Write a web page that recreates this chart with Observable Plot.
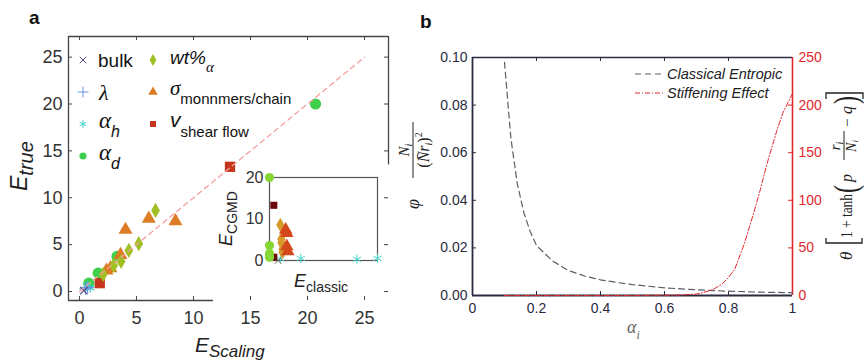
<!DOCTYPE html>
<html><head><meta charset="utf-8">
<script src="https://cdn.jsdelivr.net/npm/d3@7"></script>
<script src="https://cdn.jsdelivr.net/npm/@observablehq/plot@0.6"></script>
<style>
body{margin:0;background:#fff;}
#fig{position:relative;width:864px;height:363px;overflow:hidden;background:#fff;}
#fig > svg{position:absolute;}
</style></head><body><div id="fig"></div>
<script>
// ================= DATA =================
// Panel a: E_true vs E_Scaling
const bulkX=[0.38], bulkY=[0.10];
const lambdaX=[0.53,0.72], lambdaY=[0.29,0.45];
const alphaHX=[0.65,0.95], alphaHY=[0.55,0.40];
const alphaDX=[0.82,1.64,3.3,20.7], alphaDY=[0.89,1.96,3.74,20.0];
const wtX=[2.08,3.0,3.65,4.33,5.2,6.67], wtY=[1.82,2.78,3.2,4.38,5.1,8.65];
const sigmaX=[2.37,2.72,3.6,4.04,6.08,8.42], sigmaY=[2.24,2.49,3.9,6.59,7.77,7.51];
const shearX=[1.78,13.2], shearY=[0.89,13.3];
const refLine=[0,25];
const ticksA=[0,5,10,15,20,25];
// Inset: E_CGMD vs E_classic
const inCircX=[0,0,0,0], inCircY=[20,3.6,1.7,0.8];
const inSqX=[4,4], inSqY=[13.3,0.8];
const inDiaX=[10,11,11,12,12], inDiaY=[8.6,5.2,4.3,2.8,2.0];
const inTriX=[15,16,16,17], inTriY=[7.4,6.6,3.4,2.2];
const inAstX=[10,29,81,100], inAstY=[0.4,0.5,0.3,0.5];
const inTimesX=[8], inTimesY=[0];
const ticksInset=[0,10,20];
// Panel b
const alphaE=[0.1,0.12,0.14,0.16,0.18,0.2,0.25,0.3,0.35,0.4,0.45,0.5,0.6,0.7,0.8,0.9,1.0];
const entropic=[0.098,0.066,0.047,0.035,0.027,0.021,0.0145,0.0105,0.0082,0.0066,0.0055,0.0046,0.0032,0.0024,0.0018,0.0014,0.0012];
const alphaS=[0.1,0.2,0.3,0.4,0.5,0.6,0.65,0.7,0.72,0.75,0.78,0.8,0.82,0.85,0.88,0.9,0.92,0.95,0.97,1.0];
const stiffening=[0,0,0,0,0,0.2,0.5,1.5,3,6,12,19,28,55,88,112,138,172,192,212];
const ticksBx=[0,0.2,0.4,0.6,0.8,1];
const ticksBy=[0,0.02,0.04,0.06,0.08,0.1];
const ticksBr=[0,50,100,150,200,250];

// ================= HELPERS =================
const W=864,H=363;
const FONT='"Liberation Sans", Arial, Helvetica, sans-serif';
const SERIF='"Liberation Serif", "DejaVu Serif", serif';
const pts=(xs,ys)=>xs.map((x,i)=>({x,y:ys[i]}));
const fig=document.getElementById("fig");
function place(svg,left,top){svg.style.left=left+"px";svg.style.top=top+"px";fig.appendChild(svg);}

const C={bulk:"#4a4a85",lambda:"#6a95e6",alphaH:"#3fd0c4",alphaD:"#3ecf4c",wt:"#9fbf22",sigma:"#dc7d26",shear:"#c4351b"};

// ================= PANEL A =================
const xa=[-0.96,27.1], ya=[-0.96,27.2];
const A={w:432,l:68,r:44,t:36,b:63};
const ax=(A.w-A.l-A.r)/(xa[1]-xa[0]);
const ay=(H-A.t-A.b)/(ya[1]-ya[0]);
const TL=4, frameA="#444";
const plotA=Plot.plot({
  width:A.w,height:H,marginLeft:A.l,marginRight:A.r,marginTop:A.t,marginBottom:A.b,
  x:{domain:xa},y:{domain:ya},
  style:{background:"none",overflow:"visible",fontFamily:FONT,color:"#333"},
  marks:[
    Plot.axisX(ticksA,{tickSize:0,tickPadding:11,fontSize:18,label:null}),
    Plot.axisY(ticksA,{tickSize:0,tickPadding:6,fontSize:18,label:null}),
    Plot.ruleX(ticksA,{x:d=>d,y1:ya[0],y2:ya[0]+TL/ay,stroke:frameA}),
    Plot.ruleX(ticksA,{x:d=>d,y1:ya[1]-TL/ay,y2:ya[1],stroke:frameA}),
    Plot.ruleY(ticksA,{y:d=>d,x1:xa[0],x2:xa[0]+TL/ax,stroke:frameA}),
    Plot.ruleY(ticksA,{y:d=>d,x1:xa[1]-TL/ax,x2:xa[1],stroke:frameA}),
    Plot.ruleY([ya[1]],{x1:xa[0],x2:xa[1],stroke:frameA,strokeWidth:1.3}),
    Plot.ruleX([xa[0]],{y1:ya[0],y2:ya[1],stroke:frameA,strokeWidth:1.3}),
    Plot.ruleY([ya[0]],{x1:xa[0],x2:11.75,stroke:frameA,strokeWidth:1.3}),
    Plot.ruleX([xa[1]],{y1:13.5,y2:ya[1],stroke:frameA,strokeWidth:1.3}),
    Plot.dot(pts(alphaDX,alphaDY),{x:"x",y:"y",symbol:"circle",r:5.6,fill:C.alphaD}),
    Plot.dot(pts(shearX,shearY),{x:"x",y:"y",symbol:"square",r:5.8,fill:C.shear}),
    Plot.dot(pts(sigmaX,sigmaY),{x:"x",y:"y",symbol:"triangle",r:5.2,fill:C.sigma}),
    Plot.dot(pts(wtX,wtY),{x:"x",y:"y",symbol:"diamond",r:4.6,fill:C.wt}),
    Plot.dot(pts(alphaHX,alphaHY),{x:"x",y:"y",symbol:"asterisk",r:4.5,stroke:C.alphaH,strokeWidth:1.2}),
    Plot.dot(pts(lambdaX,lambdaY),{x:"x",y:"y",symbol:"plus",r:4,stroke:C.lambda,strokeWidth:1.2}),
    Plot.dot(pts(bulkX,bulkY),{x:"x",y:"y",symbol:"times",r:3.5,stroke:C.bulk,strokeWidth:1.2}),
    Plot.line(pts(refLine,refLine),{x:"x",y:"y",stroke:"#f4a0a0",strokeWidth:1.3,strokeDasharray:"5,4"})
  ]
});
place(plotA,0,0);

// ================= INSET =================
const I={w:190,h:140,l:69,r:13,t:17,b:40};
const plotI=Plot.plot({
  width:I.w,height:I.h,marginLeft:I.l,marginRight:I.r,marginTop:I.t,marginBottom:I.b,
  x:{domain:[0,100],axis:null},y:{domain:[0,20]},
  style:{background:"none",overflow:"visible",fontFamily:FONT,color:"#333"},
  marks:[
    Plot.frame({stroke:"#555",strokeWidth:1.2}),
    Plot.axisY(ticksInset,{tickSize:0,tickPadding:6,fontSize:16,label:null}),
    Plot.dot(pts(inAstX,inAstY),{x:"x",y:"y",symbol:"asterisk",r:4.5,stroke:"#48d6cc",strokeWidth:1}),
    Plot.dot(pts(inTimesX,inTimesY),{x:"x",y:"y",symbol:"times",r:3,stroke:"#666",strokeWidth:1}),
    Plot.dot(pts(inDiaX,inDiaY),{x:"x",y:"y",symbol:"diamond",r:4.3,fill:"#d69a2a"}),
    Plot.dot(pts(inTriX,inTriY),{x:"x",y:"y",symbol:"triangle",r:5,fill:"#d4481b"}),
    Plot.dot(pts(inSqX,inSqY),{x:"x",y:"y",symbol:"square",r:4,fill:"#6b0a0a"}),
    Plot.dot(pts(inCircX,inCircY),{x:"x",y:"y",symbol:"circle",r:4.6,fill:"#86d634"})
  ]
});
place(plotI,200,160);

// ================= PANEL B =================
const B={w:474,l:82,r:72,t:57,b:68};
const kR=0.1/250;
const bx=(B.w-B.l-B.r), by=(H-B.t-B.b)/0.1;
const navy="#2b2b40", red="#e0272c";
const plotB=Plot.plot({
  width:B.w,height:H,marginLeft:B.l,marginRight:B.r,marginTop:B.t,marginBottom:B.b,
  x:{domain:[0,1]},y:{domain:[0,0.1]},
  style:{background:"none",overflow:"visible",fontFamily:FONT},
  marks:[
    Plot.axisX(ticksBx,{tickSize:0,tickPadding:8,fontSize:14,color:navy,tickFormat:d3.format("~g"),label:null}),
    Plot.axisY(ticksBy,{tickSize:0,tickPadding:5,fontSize:14,color:navy,tickFormat:d3.format(".2f"),label:null}),
    Plot.axisY(ticksBr.map(v=>v*kR),{anchor:"right",tickSize:0,tickPadding:6,fontSize:14,color:red,tickFormat:d=>String(Math.round(d/kR)),label:null}),
    Plot.ruleX(ticksBx,{x:d=>d,y1:0,y2:TL/by,stroke:navy}),
    Plot.ruleX(ticksBx,{x:d=>d,y1:0.1-TL/by,y2:0.1,stroke:navy}),
    Plot.ruleY(ticksBy,{y:d=>d,x1:0,x2:TL/bx,stroke:navy}),
    Plot.ruleY(ticksBr.map(v=>v*kR),{y:d=>d,x1:1-TL/bx,x2:1,stroke:red}),
    Plot.ruleY([0.1],{x1:0,x2:1,stroke:navy,strokeWidth:1.6}),
    Plot.ruleY([0],{x1:0,x2:1,stroke:navy,strokeWidth:1.8}),
    Plot.ruleX([0],{y1:0,y2:0.1,stroke:navy,strokeWidth:1.8}),
    Plot.ruleX([1],{y1:0,y2:0.1,stroke:red,strokeWidth:1.6}),
    Plot.line(pts(alphaE,entropic),{x:"x",y:"y",stroke:"#5c5c68",strokeWidth:1.2,strokeDasharray:"6,4"}),
    Plot.line(pts(alphaS,stiffening.map(v=>v*kR)),{x:"x",y:"y",stroke:red,strokeWidth:1,strokeDasharray:"5,2,1,2"})
  ]
});
place(plotB,390,0);

// ================= OVERLAY TEXT / LEGENDS =================
const ov=d3.select(fig).append("svg").attr("width",W).attr("height",H)
  .style("position","absolute").style("left","0px").style("top","0px");
function txt(g,x,y,parts,attrs={}){
  const t=g.append("text").attr("x",x).attr("y",y);
  for(const [k,v] of Object.entries(attrs)) t.attr(k,v);
  for(const p of parts){
    const s=t.append("tspan").text(p.t);
    if(p.size) s.attr("font-size",p.size);
    if(p.family) s.attr("font-family",p.family);
    if(p.style) s.attr("font-style",p.style);
    if(p.weight) s.attr("font-weight",p.weight);
    if(p.dy!=null) s.attr("dy",p.dy);
    if(p.dx!=null) s.attr("dx",p.dx);
  }
  return t;
}
// Panel letters
txt(ov,29,24,[{t:"a",size:19,weight:"bold"}],{"font-family":FONT,fill:"#111"});
txt(ov,420,28,[{t:"b",size:19,weight:"bold"}],{"font-family":FONT,fill:"#111"});

// Panel a axis labels
txt(ov.append("g").attr("transform","translate(27,191) rotate(-90)"),0,0,
  [{t:"E",size:23,style:"italic"},{t:"true",size:20,style:"italic",dy:6}],{"font-family":FONT,fill:"#222"});
txt(ov,195,352,[{t:"E",size:21,style:"italic"},{t:"Scaling",size:17,style:"italic",dy:5}],{"font-family":FONT,fill:"#222"});
// Inset labels
txt(ov.append("g").attr("transform","translate(232,246) rotate(-90)"),0,0,
  [{t:"E",size:18,style:"italic"},{t:"CGMD",size:14,dy:5}],{"font-family":FONT,fill:"#222"});
txt(ov,294,287,[{t:"E",size:18,style:"italic"},{t:"classic",size:14,dy:5}],{"font-family":FONT,fill:"#222"});

// Panel a legend
const legA=[
  {x:83,y:60,type:d3.symbolTimes,size:28,stroke:C.bulk},
  {x:83,y:92,type:d3.symbolPlus,size:40,stroke:C.lambda},
  {x:83,y:124,type:d3.symbolAsterisk,size:40,stroke:C.alphaH},
  {x:83,y:156,type:d3.symbolCircle,size:40,fill:C.alphaD},
  {x:153,y:60,type:d3.symbolDiamond,size:40,fill:C.wt},
  {x:153,y:92,type:d3.symbolTriangle,size:40,fill:C.sigma},
  {x:153,y:124,type:d3.symbolSquare,size:36,fill:C.shear}
];
for(const m of legA){
  ov.append("path").attr("d",d3.symbol().type(m.type).size(m.size)())
    .attr("transform",`translate(${m.x},${m.y})`)
    .attr("fill",m.fill||"none").attr("stroke",m.stroke||"none").attr("stroke-width",1);
}
const lg=ov.append("g").attr("fill","#111").attr("font-family",FONT);
txt(lg,98,67,[{t:"bulk",size:19}]);
txt(lg,99,100,[{t:"λ",size:22,family:SERIF,style:"italic"}]);
txt(lg,99,128,[{t:"α",size:23,family:SERIF,style:"italic"},{t:"h",size:16,style:"italic",dy:9}]);
txt(lg,99,160,[{t:"α",size:23,family:SERIF,style:"italic"},{t:"d",size:16,style:"italic",dy:9}]);
txt(lg,170,64,[{t:"wt%",size:19,style:"italic"},{t:"α",size:15,family:SERIF,style:"italic",dy:8}]);
txt(lg,170,95,[{t:"σ",size:21,family:SERIF,style:"italic"},{t:"monnmers/chain",size:15,dy:9}]);
txt(lg,170,127,[{t:"v",size:21,style:"italic"},{t:"shear flow",size:15,dy:10}]);

// Panel b legend
const legB=[
  {y:74,stroke:"#5c5c68",dash:"6,4",label:"Classical Entropic"},
  {y:93,stroke:red,dash:"5,2,1,2",label:"Stiffening Effect"}
];
for(const l of legB){
  ov.append("line").attr("x1",635).attr("x2",664).attr("y1",l.y).attr("y2",l.y)
    .attr("stroke",l.stroke).attr("stroke-width",1.2).attr("stroke-dasharray",l.dash);
  txt(ov,667,l.y+5,[{t:l.label,size:14.5,style:"italic"}],{"font-family":FONT,fill:"#222"});
}
// Panel b x label
txt(ov,627,333,[{t:"α",size:18,family:SERIF,style:"italic"},{t:"i",size:12,family:SERIF,style:"italic",dy:6}],{fill:"#666"});

// Panel b left label: φ N_i / (N̄ r_i)^2
const gl=ov.append("g").attr("transform","translate(413,0) rotate(-90)").attr("font-family",SERIF).attr("fill","#222");
txt(gl,-209,6,[{t:"φ",size:18,style:"italic"}]);
gl.append("line").attr("x1",-178).attr("x2",-122).attr("y1",0).attr("y2",0).attr("stroke","#222").attr("stroke-width",1);
txt(gl,-150,-4,[{t:"N",size:15,style:"italic"},{t:"i",size:10,style:"italic",dy:3}],{"text-anchor":"middle"});
txt(gl,-150,16,[{t:"(",size:16},{t:"N̄",size:16,style:"italic"},{t:"r",size:16,style:"italic"},{t:"i",size:10,style:"italic",dy:3},{t:")",size:16,dy:-3},{t:"2",size:10,dy:-7}],{"text-anchor":"middle"});

// Panel b right label: θ [1 + tanh(p r_i/N_i − q)]
const gr=ov.append("g").attr("transform","translate(852,253) rotate(-90)").attr("font-family",SERIF).attr("fill","#222");
txt(gr,-7,0,[{t:"θ",size:17,style:"italic"}]);
gr.append("path").attr("d","M15,-26 L10,-26 L10,10 L15,10").attr("fill","none").attr("stroke","#222").attr("stroke-width",1.3);
txt(gr,15,0,[{t:"1 + tanh",size:16}],{textLength:44,lengthAdjust:"spacingAndGlyphs"});
txt(gr,60,5,[{t:"(",size:34}],{textLength:8,lengthAdjust:"spacingAndGlyphs"});
txt(gr,71,0,[{t:"p",size:16,style:"italic"}]);
gr.append("line").attr("x1",93).attr("x2",122).attr("y1",-8).attr("y2",-8).attr("stroke","#222").attr("stroke-width",1);
txt(gr,107,-12,[{t:"r",size:15,style:"italic"},{t:"i",size:10,style:"italic",dy:3}],{"text-anchor":"middle"});
txt(gr,107,4,[{t:"N",size:14,style:"italic"},{t:"i",size:9,style:"italic",dy:2}],{"text-anchor":"middle"});
txt(gr,126,0,[{t:"−",size:15}]);
txt(gr,139,0,[{t:"q",size:16,style:"italic"}]);
txt(gr,149,5,[{t:")",size:34}],{textLength:8,lengthAdjust:"spacingAndGlyphs"});
gr.append("path").attr("d","M154,-26 L160,-26 L160,11 L154,11").attr("fill","none").attr("stroke","#222").attr("stroke-width",1.3);
</script></body></html>
